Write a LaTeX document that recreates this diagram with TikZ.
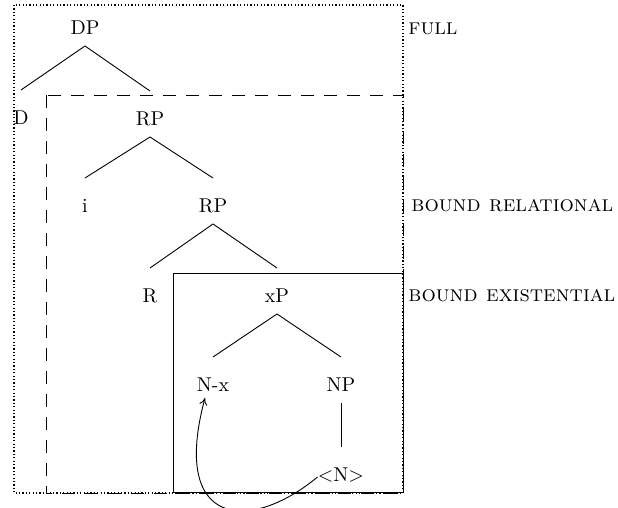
\documentclass[tikz,border=0pt]{standalone}
\usetikzlibrary{arrows.meta}
\begin{document}
\begin{tikzpicture}[x=0.5pt,y=-0.5pt,
  lab/.style={inner sep=0pt,anchor=base},
  side/.style={inner sep=0pt,anchor=base west,font=\fontsize{11.3}{13}\selectfont\scshape},
  branch/.style={line width=0.45pt},
  fullbox/.style={line width=0.65pt,dash pattern=on 0.65pt off 1.05pt},
  relbox/.style={line width=0.45pt,dash pattern=on 6.5pt off 5pt},
  exbox/.style={line width=0.45pt},
  move/.style={line width=0.45pt,-{To[length=3.5pt,width=4pt]}}]
\useasboundingbox (0,0) rectangle (618,508);
% boxes
\draw[fullbox] (14,5) rectangle (403,493);
\draw[relbox] (46,95) rectangle (403,493);
\draw[exbox] (173,273) rectangle (403,492);
% tree nodes
\node[lab] (DP) at (85,35) {DP};
\node[lab] (D) at (21,125) {D};
\node[lab] (RPa) at (150,126) {RP};
\node[lab] (i) at (85,213) {i};
\node[lab] (RPb) at (213,213) {RP};
\node[lab] (R) at (150,303) {R};
\node[lab] (xP) at (277,303) {xP};
\node[lab] (Nx) at (213,392) {N-x};
\node[lab] (NP) at (341,392) {NP};
\node[lab] (N) at (341,482) {$<$N$>$};
% side labels
\node[side] (full) at (408,35) {full};
\node[side] (brel) at (411,212) {bound relational};
\node[side] (bex) at (408,302) {bound existential};
% branches
\foreach \p/\c in {DP/D, DP/RPa, RPa/i, RPa/RPb, RPb/R, RPb/xP, xP/Nx, xP/NP, NP/N}
  \draw[branch] ([yshift=-5.5pt]\p.base) -- ([yshift=17.5pt]\c.base);
% movement arrow
\draw[move] ([yshift=2.5pt]N.base west) .. controls (250,533) and (170,528) .. ([xshift=-4pt,yshift=-3pt]Nx.base);
\end{tikzpicture}
\end{document}
